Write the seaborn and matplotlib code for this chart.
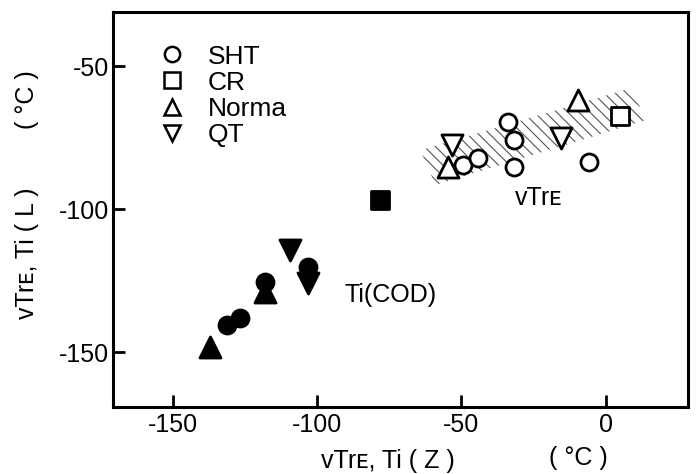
import matplotlib
matplotlib.use("Agg")
import matplotlib.pyplot as plt
from matplotlib.lines import Line2D
import seaborn as sns
import pandas as pd

# ---- data ----
steels = ["SHT", "CR", "Norma", "QT"]
markers = {"SHT": "o", "CR": "s", "Norma": "^", "QT": "v"}

# open symbols: vTrE
sht_open_x = [-33.7, -31.9, -31.9, -5.9, -49.3, -44.4]
sht_open_y = [-69.6, -75.9, -85.3, -83.6, -84.6, -82.2]
cr_open_x = [4.9]
cr_open_y = [-67.5]
norma_open_x = [-9.7, -54.5]
norma_open_y = [-61.9, -85.3]
qt_open_x = [-15.6, -53.1]
qt_open_y = [-75.2, -77.6]

# filled symbols: Ti(COD)
sht_fill_x = [-103.1, -118.1, -131.3, -126.7]
sht_fill_y = [-120.3, -125.5, -140.6, -138.1]
cr_fill_x = [-78.1]
cr_fill_y = [-96.9]
norma_fill_x = [-118.1, -137.2]
norma_fill_y = [-129.0, -148.3]
qt_fill_x = [-109.4, -103.1]
qt_fill_y = [-114.3, -125.9]

# hatched scatter band around the vTrE data
band_x = [-64.2, -59.0, 13.9, 8.7]
band_y = [-79.4, -91.6, -68.9, -57.7]

x_ticks = [-150, -100, -50, 0]
y_ticks = [-150, -100, -50]

# ---- build table ----
rows = []
series = {
    ("SHT", "vTrE"): (sht_open_x, sht_open_y),
    ("CR", "vTrE"): (cr_open_x, cr_open_y),
    ("Norma", "vTrE"): (norma_open_x, norma_open_y),
    ("QT", "vTrE"): (qt_open_x, qt_open_y),
    ("SHT", "Ti"): (sht_fill_x, sht_fill_y),
    ("CR", "Ti"): (cr_fill_x, cr_fill_y),
    ("Norma", "Ti"): (norma_fill_x, norma_fill_y),
    ("QT", "Ti"): (qt_fill_x, qt_fill_y),
}
for (steel, kind), (xs, ys) in series.items():
    for xv, yv in zip(xs, ys):
        rows.append({"x": xv, "y": yv, "steel": steel, "kind": kind})
df = pd.DataFrame(rows)

# ---- style ----
sns.set_style("ticks")
plt.rcParams["font.family"] = ["Liberation Sans", "DejaVu Sans"]
plt.rcParams["axes.unicode_minus"] = False
plt.rcParams["hatch.linewidth"] = 0.8
plt.rcParams["text.color"] = "black"
plt.rcParams["axes.labelcolor"] = "black"
plt.rcParams["xtick.color"] = "black"
plt.rcParams["ytick.color"] = "black"
plt.rcParams["axes.edgecolor"] = "black"

fig = plt.figure(figsize=(6.98, 4.74), dpi=100)
ax = fig.add_axes([0.1626, 0.1414, 0.8231, 0.8333])

sizes = {"o": 150, "s": 170, "^": 230, "v": 230}

# band
ax.fill(band_x, band_y, facecolor="none", edgecolor="#555555",
        hatch="\\\\\\", linewidth=0, zorder=1)

for (steel, kind), sub in df.groupby(["steel", "kind"], sort=False):
    m = markers[steel]
    sns.scatterplot(data=sub, x="x", y="y", ax=ax, marker=m, s=sizes[m],
                    color=("white" if kind == "vTrE" else "black"),
                    edgecolor="black", linewidth=2.0, legend=False, zorder=3)

ax.set_xlim(-170.5, 28.5)
ax.set_ylim(-169.2, -31.1)
ax.set_xticks(x_ticks)
ax.set_yticks(y_ticks)
ax.set_xticklabels([str(v) for v in x_ticks])
ax.set_yticklabels([str(v) for v in y_ticks])
ax.tick_params(axis="both", which="major", direction="in", length=8.5,
               width=2.0, labelsize=18, colors="black",
               bottom=True, left=True, top=False, right=False)
ax.tick_params(axis="x", pad=4)
ax.tick_params(axis="y", pad=3)
for sp in ax.spines.values():
    sp.set_visible(True)
    sp.set_linewidth(2.2)
    sp.set_color("black")

# axis labels
ax.set_xlabel("vTrᴇ, Ti ( Z )", fontsize=18, va="center")
ax.xaxis.set_label_coords(0.478, -0.137)
ax.text(0.8085, -0.129, "( °C )", transform=ax.transAxes, fontsize=18,
        ha="center", va="center")
ax.set_ylabel("vTrᴇ, Ti ( L )", fontsize=18, va="center")
ax.yaxis.set_label_coords(-0.1506, 0.390)
ax.text(-0.1506, 0.777, "( °C )", transform=ax.transAxes, fontsize=18,
        ha="center", va="center", rotation=90)

# annotations
ax.text(-23.3, -96.2, "vTrᴇ", fontsize=18, ha="center", va="center")
ax.text(-90.5, -130.1, "Ti(COD)", fontsize=18, ha="left", va="center")

# legend
handles = [Line2D([], [], linestyle="none", marker=markers[s], markersize=11,
                  markerfacecolor="white", markeredgecolor="black",
                  markeredgewidth=1.8) for s in steels]
ax.legend(handles, steels, loc="upper left", bbox_to_anchor=(0.0789, 0.9175),
          frameon=False, fontsize=19, handlelength=1.0, handletextpad=0.86,
          labelspacing=0.08, borderpad=0, borderaxespad=0)

fig.savefig("out.png", dpi=100)
